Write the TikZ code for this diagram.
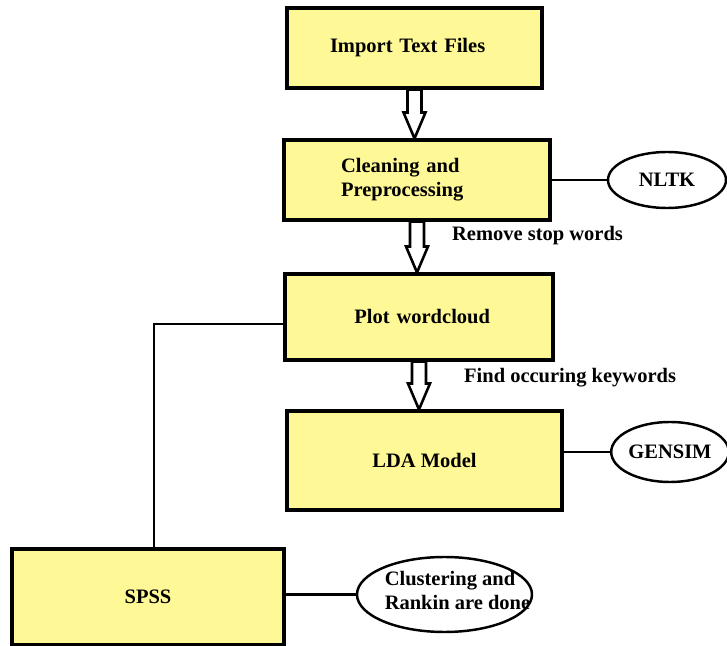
\documentclass[tikz,border=0pt]{standalone}
\usepackage{fontspec}
\setmainfont{Liberation Serif}
\usepackage{xcolor}
\usepackage{tikz}
\usetikzlibrary{positioning, shapes.geometric, calc}

\definecolor{boxyellow}{RGB}{255,248,150}

% hollow block arrow from the bottom of one box to the top of the next
\newcommand{\blockarrow}[2]{%
  \draw[blockarr] let \p1=(#1.south), \p2=(#2.north) in
    (\x1-0.21cm,\y1) -- (\x1-0.21cm,\y2+0.78cm) -- (\x1-0.33cm,\y2+0.78cm)
    -- (\x1,\y2) -- (\x1+0.33cm,\y2+0.78cm) -- (\x1+0.21cm,\y2+0.78cm)
    -- (\x1+0.21cm,\y1) -- cycle;}

\begin{document}
\begin{tikzpicture}[
    font=\fontsize{17.5}{20.4}\selectfont\bfseries,
    box/.style={rectangle, draw=black, fill=boxyellow, line width=2.6pt, align=center},
    tool/.style={ellipse, draw=black, fill=white, line width=2.1pt, inner sep=0pt},
    link/.style={line width=2.4pt},
    blockarr/.style={draw=black, fill=white, line width=2.2pt, line join=miter},
    note/.style={anchor=west}
]
\useasboundingbox (0,0) rectangle (21.81,-19.38);

% Pipeline boxes
\node[box, minimum width=7.65cm, minimum height=2.4cm, text width=5.07cm, align=left] (import) at (12.435,-1.44) {Import Text Files};
\node[box, minimum width=7.98cm, minimum height=2.4cm, text width=4.56cm, align=left] (clean) at (12.51,-5.4) {Cleaning and\\Preprocessing};
\node[box, minimum width=8.04cm, minimum height=2.58cm, text width=4.26cm, align=right] (plot) at (12.57,-9.51) {Plot wordcloud};
\node[box, minimum width=8.25cm, minimum height=2.97cm] (lda) at (12.735,-13.815) {LDA Model};
\node[box, minimum width=8.16cm, minimum height=2.88cm] (spss) at (4.44,-17.91) {SPSS};

% Tools
\node[tool, minimum width=3.54cm, minimum height=1.68cm] (nltk) at (20.01,-5.4) {NLTK};
\node[tool, minimum width=3.36cm, minimum height=1.8cm] (gensim) at (20.1,-13.56) {GENSIM};
\node[tool, minimum width=5.25cm, minimum height=2.25cm,
      label={[align=left, xshift=0.39cm, yshift=0.12cm]center:Clustering and\\Rankin are done}] (clus) at (13.335,-17.835) {};

% Flow arrows
\blockarrow{import}{clean}
\blockarrow{clean}{plot}
\blockarrow{plot}{lda}

\node[note] (stopw) at (13.44,-7.08) {Remove stop words};
\node[note] (keyw) at (13.8,-11.34) {Find occuring keywords};

% Plain connectors
\draw[link] (clean.east) -- (nltk.west);
\draw[link] (gensim.west -| lda.east) -- (gensim.west);
\draw[link] (spss.east |- clus.west) -- (clus.west);
\draw[link] ([yshift=-0.21cm]plot.west) -| ([xshift=0.18cm]spss.north);

\end{tikzpicture}
\end{document}
